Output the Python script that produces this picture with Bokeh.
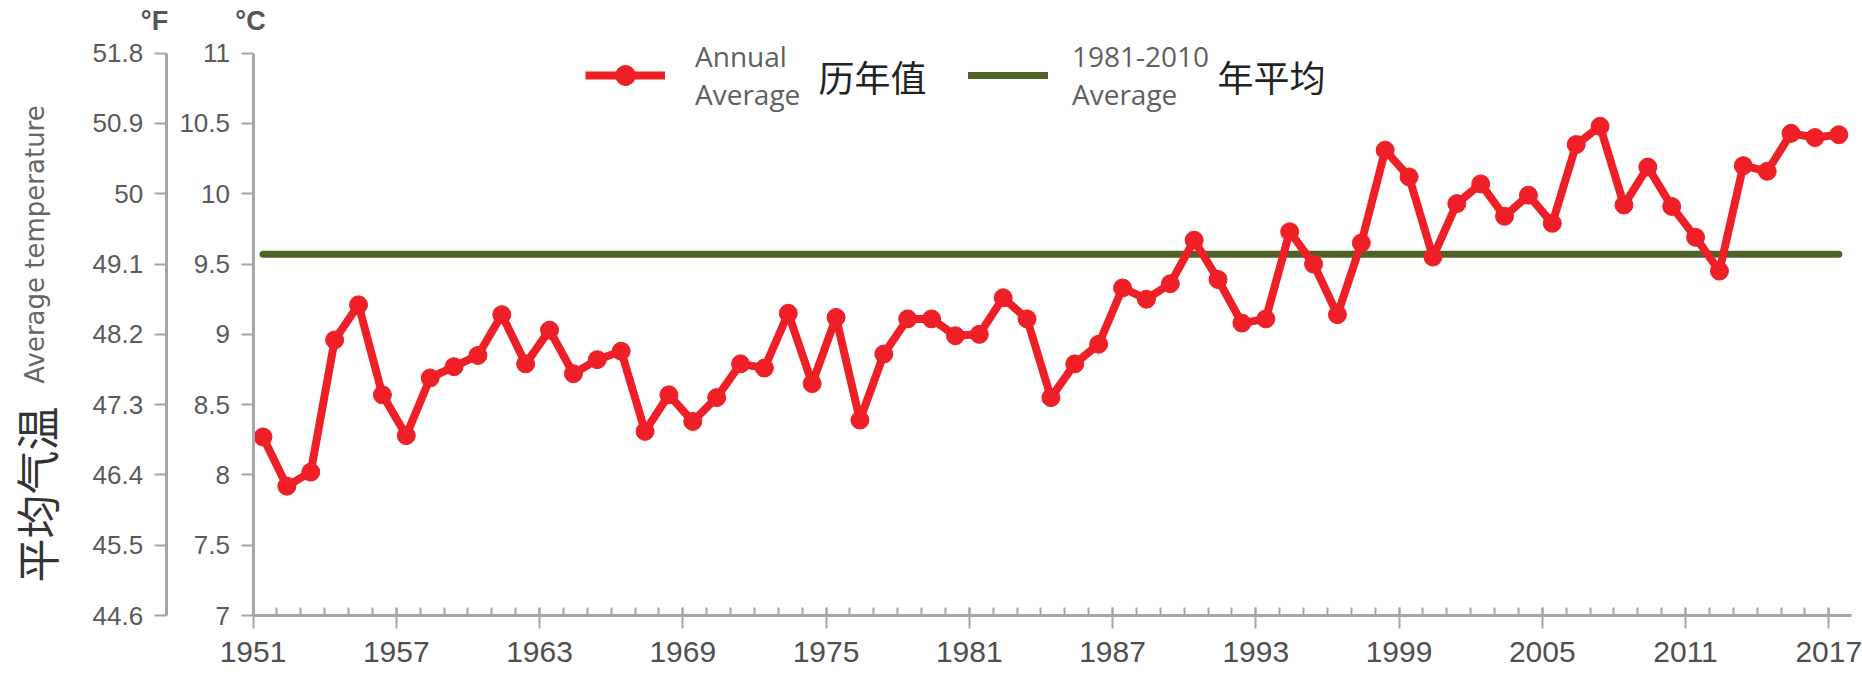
from bokeh.plotting import figure
from bokeh.models import Range1d, LinearAxis, FixedTicker, Label, Legend, LegendItem, ColumnDataSource
from bokeh.embed import file_html
from bokeh.resources import INLINE
import math

# ---------------- data ----------------
years = list(range(1951, 2018))
annual_c = [8.27, 7.92, 8.02, 8.96, 9.21, 8.57, 8.28, 8.69, 8.77, 8.85,
            9.14, 8.79, 9.03, 8.72, 8.82, 8.88, 8.31, 8.57, 8.38, 8.55,
            8.79, 8.76, 9.15, 8.65, 9.12, 8.39, 8.86, 9.11, 9.11, 8.99,
            9.00, 9.26, 9.11, 8.55, 8.79, 8.93, 9.33, 9.25, 9.36, 9.67,
            9.39, 9.08, 9.11, 9.73, 9.50, 9.14, 9.65, 10.31, 10.12, 9.55,
            9.93, 10.07, 9.84, 9.99, 9.79, 10.35, 10.48, 9.92, 10.19, 9.91,
            9.69, 9.45, 10.20, 10.16, 10.43, 10.40, 10.42]
baseline_c = 9.57

c_ticks = [7, 7.5, 8, 8.5, 9, 9.5, 10, 10.5, 11]
c_labels = ["7", "7.5", "8", "8.5", "9", "9.5", "10", "10.5", "11"]
f_ticks = [44.6, 45.5, 46.4, 47.3, 48.2, 49.1, 50, 50.9, 51.8]
f_labels = ["44.6", "45.5", "46.4", "47.3", "48.2", "49.1", "50", "50.9", "51.8"]
x_ticks = [1951, 1957, 1963, 1969, 1975, 1981, 1987, 1993, 1999, 2005, 2011, 2017]
x_labels = [str(t) for t in x_ticks]

series_en = ["Annual\nAverage", "1981-2010\nAverage"]
series_cn = ["历年值", "年平均"]
title_en = "Average temperature"
title_cn = "平均气温"
unit_f = "°F"
unit_c = "°C"

# ---------------- layout (canvas pixels, origin top-left) ----------------
W, H = 1862, 677
X0_PX, X1_PX = 252.5, 1828.3       # canvas x of first / last year tick
YTOP_PX, YBOT_PX = 52.7, 615.0      # canvas y of 11 C / 7 C
F_AXIS_PX = 165.7                   # canvas x of the Fahrenheit axis line
X_END = 2017.95                     # end of the time axis line
X_OFFSET = 0.42                     # points sit inside each year slot

px_per_yr = (X1_PX - X0_PX) / (years[-1] - years[0])
x_start = years[0] - X0_PX / px_per_yr
x_end = years[0] + (W - X0_PX) / px_per_yr
px_per_c = (YBOT_PX - YTOP_PX) / (c_ticks[-1] - c_ticks[0])
y_end = c_ticks[-1] + YTOP_PX / px_per_c
y_start = c_ticks[0] - (H - YBOT_PX) / px_per_c
f_axis_x = years[0] - (X0_PX - F_AXIS_PX) / px_per_yr

RED = "#EE1F26"
GREEN = "#4F6228"
AXIS = "#A6A6A9"
TXT = "#5A5A5A"

xs = [y + X_OFFSET for y in years]
src = ColumnDataSource(dict(x=xs, y=annual_c))
base_src = ColumnDataSource(dict(x=[xs[0], xs[-1]], y=[baseline_c, baseline_c]))

p = figure(width=W, height=H,
           x_range=Range1d(x_start, x_end), y_range=Range1d(y_start, y_end),
           output_backend="svg", toolbar_location=None,
           min_border=0, min_border_left=0, min_border_right=0,
           min_border_top=0, min_border_bottom=0)
p.extra_y_ranges = {"F": Range1d(32 + 1.8 * y_start, 32 + 1.8 * y_end)}
p.outline_line_color = None
p.xgrid.visible = False
p.ygrid.visible = False
p.background_fill_color = "white"
p.border_fill_color = "white"

# baseline and annual series
g_line = p.line("x", "y", source=base_src, line_color=GREEN, line_width=7, line_cap="round")
r_line = p.line("x", "y", source=src, line_color=RED, line_width=8, line_join="round")
r_pts = p.scatter("x", "y", source=src, size=18, fill_color=RED, line_color=RED)

# x axis
xa = p.xaxis[0]
xa.fixed_location = c_ticks[0]
xa.bounds = (years[0], X_END)
xa.ticker = FixedTicker(ticks=x_ticks, minor_ticks=years)
xa.major_label_overrides = {t: l for t, l in zip(x_ticks, x_labels)}
xa.axis_line_color = AXIS
xa.axis_line_width = 3
xa.major_tick_line_color = AXIS
xa.major_tick_line_width = 2
xa.major_tick_out = 13
xa.major_tick_in = 8
xa.minor_tick_line_color = AXIS
xa.minor_tick_line_width = 2
xa.minor_tick_in = 8
xa.minor_tick_out = 0
xa.major_label_text_font = "Liberation Sans"
xa.major_label_text_font_size = "30px"
xa.major_label_text_color = "#4F4F4F"
xa.major_label_standoff = 13

# celsius axis (inner) and fahrenheit axis (outer)
ya = p.yaxis[0]
ya.fixed_location = years[0]
ya.bounds = (c_ticks[0], c_ticks[-1])
ya.ticker = FixedTicker(ticks=c_ticks)
ya.major_label_overrides = {t: l for t, l in zip(c_ticks, c_labels)}

fa = LinearAxis(y_range_name="F", ticker=FixedTicker(ticks=f_ticks))
fa.fixed_location = f_axis_x
fa.bounds = (f_ticks[0], f_ticks[-1])
fa.major_label_overrides = {t: l for t, l in zip(f_ticks, f_labels)}

for ax in (ya, fa):
    ax.axis_line_color = AXIS
    ax.axis_line_width = 3
    ax.major_tick_line_color = AXIS
    ax.major_tick_line_width = 2
    ax.major_tick_out = 12
    ax.major_tick_in = 0
    ax.minor_tick_line_color = None
    ax.major_label_text_font = "Liberation Sans"
    ax.major_label_text_font_size = "26px"
    ax.major_label_text_color = TXT
    ax.major_label_standoff = 11
p.add_layout(fa, "left")

# texts placed in screen pixels (origin = bottom-left of the canvas)
def lab(x, y_top, text, size, font="Open Sans", color=TXT, style="normal", angle=0, align="center"):
    p.add_layout(Label(x=x, y=H - y_top, x_units="screen", y_units="screen", text=text,
                       text_font=font, text_font_size=size, text_color=color,
                       text_font_style=style, angle=angle, text_align=align,
                       text_baseline="middle"))

lab(154, 20, unit_f, "27px", font="Liberation Sans", style="bold", color="#555555")
lab(250, 20, unit_c, "27px", font="Liberation Sans", style="bold", color="#555555")
lab(34, 244, title_en, "26px", font="DejaVu Sans", color="#666666", angle=math.pi / 2)
lab(35, 494, title_cn, "44px", font="Noto Sans CJK SC", color="#333333", angle=math.pi / 2)

# legend
for item_en, rends, x_left, standoff in ((series_en[0], [r_line, r_pts], 585, 30),
                                          (series_en[1], [g_line], 968, 24)):
    lg = Legend(items=[LegendItem(label=item_en, renderers=rends)],
                location=(x_left, H - 113),
                orientation="horizontal", border_line_color=None,
                background_fill_alpha=0, padding=0, margin=0, spacing=0,
                glyph_width=80, glyph_height=50, label_standoff=standoff,
                label_text_font="Open Sans", label_text_font_size="28px",
                label_text_color="#5F5F5F", label_text_line_height=0.64)
    p.add_layout(lg)

lab(818, 75, series_cn[0], "36px", font="Noto Sans CJK SC", color="#222222", align="left")
lab(1217, 75, series_cn[1], "36px", font="Noto Sans CJK SC", color="#222222", align="left")

open("out.html", "w").write(file_html(p, INLINE))
